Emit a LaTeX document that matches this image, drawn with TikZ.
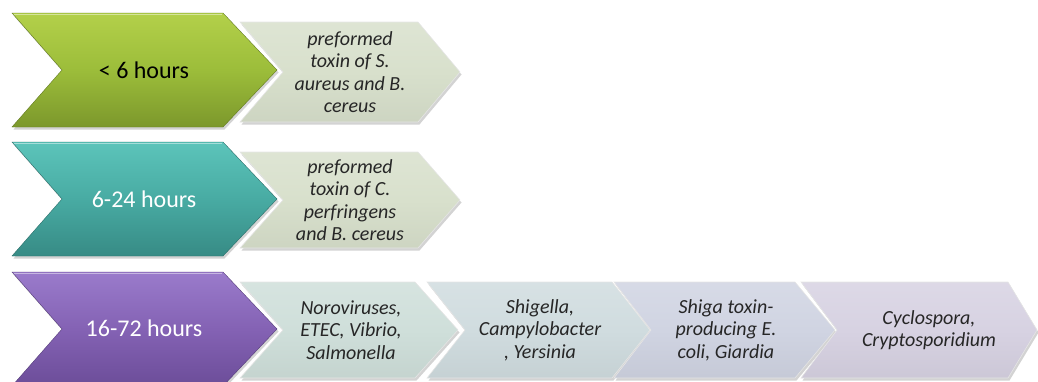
\documentclass[tikz,border=0pt]{standalone}
\usepackage{fontspec}
\setmainfont{Carlito}
\usetikzlibrary{shadows}
\definecolor{gtop}{HTML}{B3D04A}
\definecolor{gmid}{HTML}{9CBD3A}
\definecolor{gbot}{HTML}{7C982C}
\definecolor{ttop}{HTML}{5CC4BA}
\definecolor{tmid}{HTML}{48ABA3}
\definecolor{tbot}{HTML}{378B85}
\definecolor{ptop}{HTML}{9A7BCB}
\definecolor{pmid}{HTML}{8462B4}
\definecolor{pbot}{HTML}{6C4D99}
\definecolor{sage}{HTML}{D8E0CC}
\definecolor{rA}{HTML}{CFDFDA}
\definecolor{rB}{HTML}{D0DCDF}
\definecolor{rC}{HTML}{D0D4E2}
\definecolor{rD}{HTML}{D7D2E2}
\tikzset{
  shadowed/.style={drop shadow={opacity=0.35,shadow xshift=1.5pt,shadow yshift=-2.5pt}},
  greenchev/.style={shadowed,top color=gtop,bottom color=gbot,middle color=gmid,draw=gbot!80!black,line width=0.4pt},
  tealchev/.style={shadowed,top color=ttop,bottom color=tbot,middle color=tmid,draw=tbot!80!black,line width=0.4pt},
  purpchev/.style={shadowed,top color=ptop,bottom color=pbot,middle color=pmid,draw=pbot!80!black,line width=0.4pt},
  lightchev/.style={shadowed,top color=#1!85!white,bottom color=#1!95!black,middle color=#1,draw=white!80!gray,line width=0.6pt},
  bigtxt/.style={font=\fontsize{24}{28}\selectfont,align=center,inner sep=0pt},
  smtxt/.style={font=\itshape\fontsize{20}{22.5}\selectfont,align=center,inner sep=0pt,text=black!85},
}
\newcommand\bigchev[3]{%
  \path[#3] (12,#1) -- (223,#1) -- (277,{(#1+#2)/2}) -- (223,#2) -- (12,#2) -- (62,{(#1+#2)/2}) -- cycle;
  \draw[white,opacity=0.45,line width=1.2pt] (14,{#1+1.5}) -- (222,{#1+1.5});}
\newcommand\smchev[7]{%
  \path[#7] (#1,#5) -- (#3,#5) -- (#4,{(#5+#6)/2}) -- (#3,#6) -- (#1,#6) -- (#2,{(#5+#6)/2}) -- cycle;}
\begin{document}
\begin{tikzpicture}[x=1pt,y=-1pt]
\useasboundingbox (0,0) rectangle (1038,381);
\clip (0,0) rectangle (1038,381);
% row 1
\bigchev{13}{127}{greenchev}
\smchev{240}{283}{418}{460}{22}{122}{lightchev=sage}
\node[bigtxt,text=black] (h1) at (144,70) {< 6 hours};
\node[smtxt] (d1) at (350,72) {preformed\\toxin of S.\\aureus and B.\\cereus};
% row 2
\bigchev{142}{256}{tealchev}
\smchev{240}{283}{418}{460}{152}{248}{lightchev=sage}
\node[bigtxt,text=white] (h2) at (144,199) {6-24 hours};
\node[smtxt] (d2) at (350,200) {preformed\\toxin of C.\\perfringens\\and B. cereus};
% row 3
\bigchev{272}{386}{purpchev}
\smchev{240}{283}{415}{458}{282}{378}{lightchev=rA}
\smchev{427}{465}{612}{650}{282}{378}{lightchev=rB}
\smchev{614}{651}{795}{835}{282}{378}{lightchev=rC}
\smchev{801}{837}{1008}{1037}{282}{378}{lightchev=rD}
\node[bigtxt,text=white] (h3) at (144,328) {16-72 hours};
\node[smtxt] (d3) at (351,330) {Noroviruses,\\ETEC, Vibrio,\\Salmonella};
\node[smtxt] (d4) at (540,330) {Shigella,\\Campylobacter\\, Yersinia};
\node[smtxt] (d5) at (726,330) {Shiga toxin-\\producing E.\\coli, Giardia};
\node[smtxt] (d6) at (929,330) {Cyclospora,\\Cryptosporidium};
\end{tikzpicture}
\end{document}
